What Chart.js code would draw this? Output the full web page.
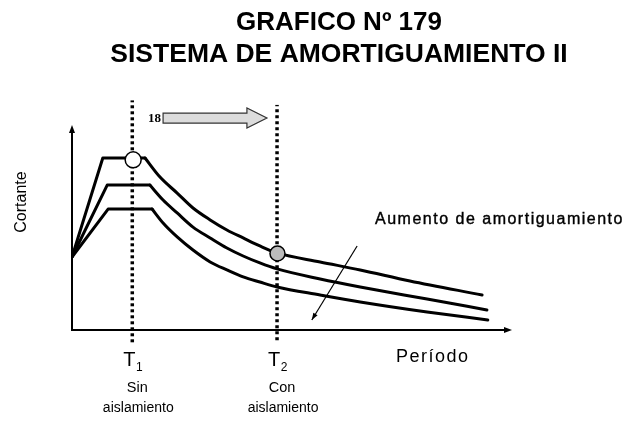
<!DOCTYPE html>
<html>
<head>
<meta charset="utf-8">
<script src="https://cdn.jsdelivr.net/npm/chart.js@4.4.1/dist/chart.umd.min.js"></script>
<style>
  html, body { margin: 0; padding: 0; background: #fff; }
  #wrap { width: 630px; height: 433px; position: relative; }
</style>
</head>
<body>
<div id="wrap"><canvas id="chart" width="630" height="433"></canvas></div>
<script>
// curvas de respuesta (x = periodo, y = cortante), unidades arbitrarias
// los tres primeros puntos son la rampa y la meseta, el resto el tramo descendente
const altoX  = [0, 0.70, 1.66, 2.00, 2.39, 2.75, 3.14, 3.52, 3.89, 4.27, 4.66, 5.64, 6.55, 7.68, 9.32];
const altoY  = [3.56, 8.39, 8.39, 7.46, 6.68, 5.95, 5.37, 4.88, 4.49, 4.10, 3.76, 3.32, 2.93, 2.39, 1.71];
const medioX = [0, 0.80, 1.77, 2.07, 2.39, 2.75, 3.14, 3.52, 3.89, 4.27, 4.66, 5.64, 6.55, 8.07, 9.43];
const medioY = [3.56, 7.07, 7.07, 6.34, 5.71, 5.02, 4.49, 4.00, 3.61, 3.27, 2.98, 2.49, 2.10, 1.51, 0.98];
const bajoX  = [0, 0.82, 1.82, 2.07, 2.39, 2.75, 3.14, 3.52, 3.89, 4.27, 4.66, 5.64, 6.55, 8.07, 9.45];
const bajoY  = [3.56, 5.90, 5.90, 5.22, 4.54, 3.90, 3.32, 2.93, 2.59, 2.34, 2.10, 1.71, 1.37, 0.88, 0.49];

// periodos marcados
const periodos = [1.37, 4.66];
const periodoEtiquetas = ['1', '2'];
const periodoTextos = [['Sin', 'aislamiento'], ['Con', 'aislamiento']];
const lineaTop = [11.2, 10.98];
const lineaBase = [-0.6, -0.5];

// puntos señalados sobre la curva superior
const puntoX = [1.39, 4.67];
const puntoY = [8.3, 3.73];

// flechas de anotación (en unidades de datos)
const flechaGrisX = [2.07, 4.43];
const flechaGrisY = 10.34;
const flechaAmortX = [6.48, 5.45];
const flechaAmortY = [4.1, 0.49];

const pts = (xs, ys) => xs.map((x, i) => ({ x, y: ys[i] }));

function curva(xs, ys) {
    const todos = pts(xs, ys);
    const base = { showLine: true, borderColor: '#000', borderWidth: 3, borderJoinStyle: 'round',
                   borderCapStyle: 'round', pointRadius: 0, order: 2 };
    return [
        { ...base, data: todos.slice(0, 3), tension: 0 },
        { ...base, data: todos.slice(2), cubicInterpolationMode: 'monotone' },
    ];
}

const datasets = [
    ...curva(altoX, altoY),
    ...curva(medioX, medioY),
    ...curva(bajoX, bajoY),
];

periodos.forEach((p, i) => {
    datasets.push({
        data: [{ x: p, y: lineaBase[i] }, { x: p, y: lineaTop[i] }],
        showLine: true, borderColor: '#000', borderWidth: 3.5, borderDash: [3, 3],
        pointRadius: 0, clip: false, order: 3,
    });
});

datasets.push({
    data: pts(puntoX, puntoY), showLine: false, pointRadius: [8, 7.5],
    pointBackgroundColor: ['#fff', '#bbb'], pointBorderColor: '#000', pointBorderWidth: 1.5,
    clip: false, order: 0,
});

function flecha(ctx, x1, y1, x2, y2, len, ancho) {
    const a = Math.atan2(y2 - y1, x2 - x1);
    ctx.beginPath();
    ctx.moveTo(x2, y2);
    ctx.lineTo(x2 - len * Math.cos(a) + ancho * Math.sin(a), y2 - len * Math.sin(a) - ancho * Math.cos(a));
    ctx.lineTo(x2 - len * Math.cos(a) - ancho * Math.sin(a), y2 - len * Math.sin(a) + ancho * Math.cos(a));
    ctx.closePath();
    ctx.fill();
}

const anotaciones = {
    id: 'anotaciones',
    afterDraw(chart) {
        const { ctx, chartArea: ca, scales: { x, y } } = chart;
        const x0 = x.getPixelForValue(0), y0 = y.getPixelForValue(0);
        ctx.save();
        ctx.fillStyle = '#000';
        ctx.strokeStyle = '#000';

        // ejes
        ctx.lineWidth = 2;
        ctx.beginPath();
        ctx.moveTo(x0, y0 + 1); ctx.lineTo(x0, ca.top + 4);
        ctx.moveTo(x0 - 1, y0); ctx.lineTo(ca.right - 4, y0);
        ctx.stroke();
        flecha(ctx, x0, y0, x0, ca.top, 8, 3);
        flecha(ctx, x0, y0, ca.right, y0, 8, 3);

        // flecha gris superior
        const gx1 = x.getPixelForValue(flechaGrisX[0]), gx2 = x.getPixelForValue(flechaGrisX[1]);
        const gy = y.getPixelForValue(flechaGrisY);
        ctx.beginPath();
        ctx.moveTo(gx1, gy - 5);
        ctx.lineTo(gx2 - 20, gy - 5);
        ctx.lineTo(gx2 - 20, gy - 10);
        ctx.lineTo(gx2, gy);
        ctx.lineTo(gx2 - 20, gy + 10);
        ctx.lineTo(gx2 - 20, gy + 5);
        ctx.lineTo(gx1, gy + 5);
        ctx.closePath();
        ctx.fillStyle = '#dcdcdc';
        ctx.fill();
        ctx.lineWidth = 1.2;
        ctx.strokeStyle = '#333';
        ctx.stroke();
        ctx.strokeStyle = '#000';
        ctx.fillStyle = '#000';
        ctx.font = 'bold 13px "Liberation Serif"';
        ctx.textAlign = 'right';
        ctx.textBaseline = 'middle';
        ctx.fillText('18', gx1 - 2, gy + 1);

        // flecha de aumento de amortiguamiento
        const ax1 = x.getPixelForValue(flechaAmortX[0]), ay1 = y.getPixelForValue(flechaAmortY[0]);
        const ax2 = x.getPixelForValue(flechaAmortX[1]), ay2 = y.getPixelForValue(flechaAmortY[1]);
        ctx.lineWidth = 1.2;
        ctx.beginPath();
        ctx.moveTo(ax1, ay1); ctx.lineTo(ax2, ay2);
        ctx.stroke();
        flecha(ctx, ax1, ay1, ax2, ay2, 7, 2.5);

        // títulos
        ctx.textAlign = 'center';
        ctx.textBaseline = 'alphabetic';
        ctx.font = 'bold 26px "Liberation Sans", Arial, sans-serif';
        ctx.fillText('GRAFICO Nº 179', 339, 30);
        ctx.font = 'bold 26.5px "Liberation Sans", Arial, sans-serif';
        ctx.fillText('SISTEMA DE AMORTIGUAMIENTO II', 339, 62);

        // etiqueta eje y
        ctx.save();
        ctx.translate(26, 202);
        ctx.rotate(-Math.PI / 2);
        ctx.font = '16px "Liberation Sans", Arial, sans-serif';
        ctx.fillText('Cortante', 0, 0);
        ctx.restore();

        // etiqueta eje x
        ctx.textAlign = 'left';
        ctx.font = '18px "Liberation Sans", Arial, sans-serif';
        ctx.letterSpacing = '1.5px';
        ctx.fillText('Período', 396, 362);

        ctx.font = '16px "Liberation Sans", Arial, sans-serif';
        ctx.lineWidth = 0.4;
        ctx.fillText('Aumento de amortiguamiento', 375, 224);
        ctx.strokeText('Aumento de amortiguamiento', 375, 224);
        ctx.letterSpacing = '0px';

        // T1, T2
        periodos.forEach((p, i) => {
            const px = x.getPixelForValue(p);
            ctx.textAlign = 'center';
            ctx.font = '20px "Liberation Sans", Arial, sans-serif';
            ctx.fillText('T', px - 3, 366);
            ctx.font = '12px "Liberation Sans", Arial, sans-serif';
            ctx.fillText(periodoEtiquetas[i], px + 7, 371);
            ctx.font = '14.5px "Liberation Sans", Arial, sans-serif';
            ctx.fillText(periodoTextos[i][0], px + 5, 392);
            ctx.font = '14px "Liberation Sans", Arial, sans-serif';
            ctx.fillText(periodoTextos[i][1], px + 6, 412);
        });
        ctx.restore();
    },
};

new Chart(document.getElementById('chart'), {
    type: 'scatter',
    data: { datasets },
    options: {
        responsive: false,
        animation: false,
        layout: { padding: { left: 72, right: 118, top: 125, bottom: 103 } },
        plugins: { legend: { display: false }, tooltip: { enabled: false } },
        scales: {
            x: { type: 'linear', min: 0, max: 10, display: false },
            y: { type: 'linear', min: 0, max: 10, display: false },
        },
    },
    plugins: [anotaciones],
});
</script>
</body>
</html>
